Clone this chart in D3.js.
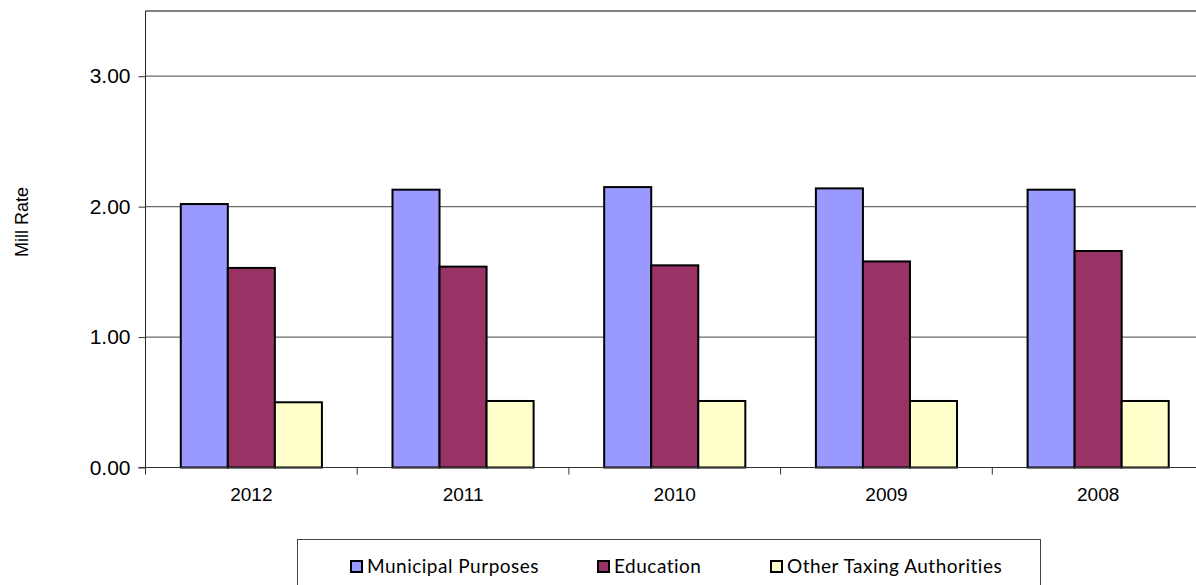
<!DOCTYPE html>
<html>
<head>
<meta charset="utf-8">
<script src="https://cdn.jsdelivr.net/npm/d3@7"></script>
<style>
  body { margin: 0; background: #fff; }
  svg { display: block; }
</style>
</head>
<body>
<div id="chart"></div>
<script>
// values
var years = ['2012', '2011', '2010', '2009', '2008']
var series = ['Municipal Purposes', 'Education', 'Other Taxing Authorities']
var municipal = [2.02, 2.13, 2.15, 2.14, 2.13]
var education = [1.53, 1.54, 1.55, 1.58, 1.66]
var otherTax = [0.50, 0.51, 0.51, 0.51, 0.51]
var yTicks = [0, 1, 2, 3]

var colors = ['#9999FF', '#993366', '#FFFFCC']
var values = [municipal, education, otherTax]

var width = 1196, height = 585
var plotLeft = 145.5, plotTop = 11, plotBottom = 467.5
var plotRight = plotLeft + 5 * 211.7

var svg = d3.select('#chart').append('svg')
    .attr('width', width)
    .attr('height', height)

var x0 = d3.scaleBand()
    .domain(years)
    .range([plotLeft, plotRight])

var bw = x0.bandwidth()
var x1 = d3.scaleBand()
    .domain(series)
    .range([bw / 6, bw * 5 / 6])

var y = d3.scaleLinear()
    .domain([0, 3.5])
    .range([plotBottom, plotTop])

// gridlines
svg.append('g')
    .selectAll('line')
    .data(yTicks.filter(d => d > 0))
    .join('line')
    .attr('x1', plotLeft).attr('x2', plotRight)
    .attr('y1', d => y(d)).attr('y2', d => y(d))
    .attr('stroke', '#6a6a6a')
    .attr('stroke-width', 1.2)

// top border of plot area
svg.append('line')
    .attr('x1', plotLeft).attr('x2', plotRight)
    .attr('y1', plotTop).attr('y2', plotTop)
    .attr('stroke', '#000').attr('stroke-width', 1)

// bars
var rows = years.map((yr, i) => ({ year: yr, vals: series.map((s, j) => ({ s: s, v: values[j][i], c: colors[j] })) }))

svg.append('g')
    .selectAll('g')
    .data(rows)
    .join('g')
    .attr('transform', d => 'translate(' + x0(d.year) + ',0)')
    .selectAll('rect')
    .data(d => d.vals)
    .join('rect')
    .attr('x', d => x1(d.s))
    .attr('width', x1.bandwidth())
    .attr('y', d => y(d.v))
    .attr('height', d => y(0) - y(d.v))
    .attr('fill', d => d.c)
    .attr('stroke', '#000')
    .attr('stroke-width', 2)

// y axis
var yAxis = svg.append('g')
    .attr('transform', 'translate(' + plotLeft + ',0)')
    .call(d3.axisLeft(y).tickValues(yTicks).tickFormat(d3.format('.2f')).tickSize(7).tickPadding(8))
yAxis.select('.domain').attr('d', 'M0,' + plotTop + 'V' + plotBottom).attr('stroke', '#222')
yAxis.selectAll('.tick line').attr('stroke', '#333')
yAxis.selectAll('text')
    .attr('font-family', 'Liberation Sans, Arial, sans-serif')
    .attr('font-size', 21)
    .attr('fill', '#000')

// x axis
var xAxis = svg.append('g')
    .attr('transform', 'translate(0,' + plotBottom + ')')
    .call(d3.axisBottom(x0).tickSize(0).tickPadding(20))
xAxis.select('.domain').attr('d', 'M' + (plotLeft - 7) + ',0H' + plotRight).attr('stroke', '#333')
xAxis.selectAll('text')
    .attr('font-family', 'Liberation Sans, Arial, sans-serif')
    .attr('font-size', 19)
    .attr('fill', '#000')

// category separator ticks
svg.append('g')
    .selectAll('line')
    .data(years)
    .join('line')
    .attr('x1', d => x0(d)).attr('x2', d => x0(d))
    .attr('y1', plotBottom).attr('y2', plotBottom + 7)
    .attr('stroke', '#333')

// y title
svg.append('text')
    .attr('transform', 'translate(28,222) rotate(-90)')
    .attr('text-anchor', 'middle')
    .attr('font-family', 'Liberation Sans, Arial, sans-serif')
    .attr('font-size', 18)
    .text('Mill Rate')

// legend
svg.append('rect')
    .attr('x', 297.5).attr('y', 539.5)
    .attr('width', 743).attr('height', 60)
    .attr('fill', '#fff')
    .attr('stroke', '#444')
    .attr('stroke-width', 1)

var legendX = [351, 598, 771]
var item = svg.append('g')
    .selectAll('g')
    .data(series)
    .join('g')
    .attr('transform', (d, i) => 'translate(' + legendX[i] + ',561)')

item.append('rect')
    .attr('width', 11).attr('height', 11)
    .attr('fill', (d, i) => colors[i])
    .attr('stroke', '#000')
    .attr('stroke-width', 2)

item.append('text')
    .attr('x', 16)
    .attr('y', 12)
    .attr('font-family', 'Lato, Open Sans, sans-serif')
    .attr('font-size', 19)
    .attr('letter-spacing', 0.5)
    .text(d => d)
</script>
</body>
</html>
